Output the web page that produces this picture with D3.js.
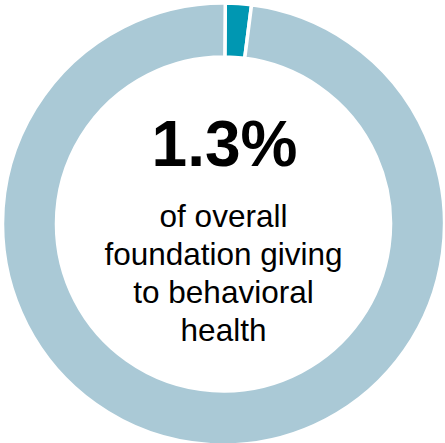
<!DOCTYPE html>
<html>
<head>
<meta charset="utf-8">
<script src="https://cdn.jsdelivr.net/npm/d3@7"></script>
<style>
  body { margin: 0; background: #fff; }
  text { font-family: "Liberation Sans", Arial, sans-serif; fill: #000; }
</style>
</head>
<body>
<div id="chart"></div>
<script>
// slice sizes as drawn in the picture (the ring slice looks a bit wider than the 1.3% label)
var categories = ["Behavioral health", "Other giving"];
var values = [1.9, 98.1];
var colors = ["#0097b2", "#aac9d6"];
var headline = "1.3%";
var caption = ["of overall", "foundation giving", "to behavioral", "health"];

var width = 445, height = 443;
var cx = 223.5, cy = 224;
var outerR = 221, innerR = 167;

var svg = d3.select("#chart").append("svg")
  .attr("width", width)
  .attr("height", height);

var g = svg.append("g")
  .attr("transform", "translate(" + cx + "," + cy + ")");

var pie = d3.pie().sort(null)
  .startAngle(0.008)
  .endAngle(0.008 + 2 * Math.PI)
  .value(function(d) { return d; });
var arc = d3.arc().innerRadius(innerR).outerRadius(outerR);

var color = d3.scaleOrdinal().domain(categories).range(colors);

g.selectAll("path")
  .data(pie(values))
  .enter().append("path")
  .attr("d", arc)
  .attr("fill", function(d, i) { return color(categories[i]); })
  .attr("stroke", "#fff")
  .attr("stroke-width", 3.5);

g.append("text")
  .attr("x", 1)
  .attr("y", 166 - cy)
  .attr("text-anchor", "middle")
  .attr("font-size", 64)
  .attr("font-weight", "bold")
  .text(headline);

g.selectAll("text.caption")
  .data(caption)
  .enter().append("text")
  .attr("class", "caption")
  .attr("x", 0)
  .attr("y", function(d, i) { return 227 + i * 38 - cy; })
  .attr("text-anchor", "middle")
  .attr("font-size", 31.5)
  .text(function(d) { return d; });
</script>
</body>
</html>
